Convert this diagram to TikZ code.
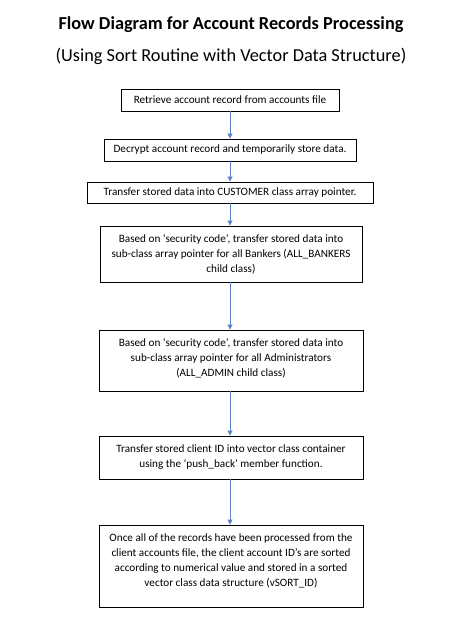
\documentclass[tikz,border=0pt]{standalone}
\usepackage{fontspec}
\setmainfont{Carlito}
\usetikzlibrary{arrows.meta}
\definecolor{arrowblue}{HTML}{5B82C4}
\tikzset{
  box/.style={draw=black, line width=0.9pt, align=center, inner sep=2pt,
    font=\fontsize{11.2}{15}\selectfont},
  flow/.style={draw=arrowblue, line width=0.9pt, -{Triangle[length=5pt,width=5pt]}},
  title/.style={font=\fontsize{18.3}{22}\selectfont\bfseries},
  subtitle/.style={font=\fontsize{18.3}{22}\selectfont}
}
\begin{document}
\begin{tikzpicture}[x=1pt,y=-1pt]
\useasboundingbox[fill=white] (0,0) rectangle (468,628);
\node[title] (t1) at (231,25) {Flow Diagram for Account Records Processing};
\node[subtitle] (t2) at (231,56.5) {(Using Sort Routine with Vector Data Structure)};
\node[box, minimum width=218pt, minimum height=22pt] (b1) at (230,100) {Retrieve account record from accounts file};
\node[box, minimum width=252pt, minimum height=22pt] (b2) at (230,150) {Decrypt account record and temporarily store data.};
\node[box, minimum width=286pt, minimum height=21pt] (b3) at (230,192.5) {Transfer stored data into CUSTOMER class array pointer.};
\node[box, minimum width=262pt, minimum height=56pt] (b4) at (231,254) {Based on ‘security code’, transfer stored data into\\ sub-class array pointer for all Bankers (ALL\_BANKERS\\ child class)};
\node[box, minimum width=264pt, minimum height=61pt] (b5) at (231,360.5) {\parbox[c][44pt][t]{256pt}{\centering Based on ‘security code’, transfer stored data into\\ sub-class array pointer for all Administrators\\ (ALL\_ADMIN child class)}};
\node[box, minimum width=264pt, minimum height=43pt] (b6) at (231,457.5) {Transfer stored client ID into vector class container\\ using the ‘push\_back’ member function.};
\node[box, minimum width=264pt, minimum height=82pt] (b7) at (231,566) {\parbox[c][65pt][t]{256pt}{\centering Once all of the records have been processed from the\\ client accounts file, the client account ID’s are sorted\\ according to numerical value and stored in a sorted\\ vector class data structure (vSORT\_ID)}};
\draw[flow] (b1.south -| 230,0) -- (b2.north -| 230,0);
\draw[flow] (b2.south -| 230,0) -- (b3.north -| 230,0);
\draw[flow] (b3.south -| 230,0) -- (b4.north -| 230,0);
\draw[flow] (b4.south -| 230,0) -- (b5.north -| 230,0);
\draw[flow] (b5.south -| 230,0) -- (b6.north -| 230,0);
\draw[flow] (b6.south -| 230,0) -- (b7.north -| 230,0);
\end{tikzpicture}
\end{document}
